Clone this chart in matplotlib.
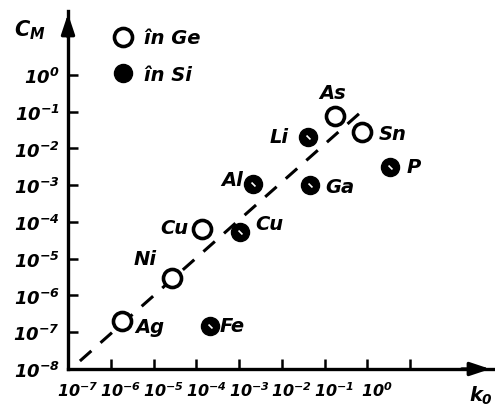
import matplotlib
matplotlib.use("Agg")
import matplotlib.pyplot as plt
from matplotlib.lines import Line2D
from matplotlib.transforms import ScaledTranslation

plt.rcParams['font.family'] = ['DejaVu Sans']
plt.rcParams['mathtext.fontset'] = 'custom'
plt.rcParams['mathtext.rm'] = 'DejaVu Sans:italic:bold'
plt.rcParams['mathtext.it'] = 'DejaVu Sans:italic:bold'

# impurities in Ge (open circles)
ge_names = ['Ag', 'Ni', 'Cu', 'As', 'Sn']
ge_k0 = [1.8e-6, 2.7e-5, 1.35e-4, 0.18, 0.76]
ge_cm = [2.0e-7, 3.0e-6, 6.5e-5, 0.076, 0.028]

# impurities in Si (filled circles)
si_names = ['Fe', 'Cu', 'Al', 'Ga', 'Li', 'P']
si_k0 = [2.1e-4, 1.05e-3, 2.1e-3, 0.046, 0.041, 3.4]
si_cm = [1.5e-7, 5.4e-5, 1.07e-3, 1.02e-3, 0.02, 3.2e-3]

# label offsets (points) relative to each marker
ge_off = [(10, -4, 'left'), (-11, 14, 'right'), (-10, 1, 'right'), (-2, 17, 'center'), (12, -1, 'left')]
si_off = [(7, 0, 'left'), (11, 6, 'left'), (-7, 3, 'right'), (11, -1, 'left'), (-14, 1, 'right'), (12, 0, 'left')]

# dashed trend line
trend_k0 = [1.9e-7, 0.9]
trend_cm = [1.65e-8, 0.125]

x_ticks = [10.0 ** p for p in range(-7, 2)]
x_labels = [r'$10^{%d}$' % p for p in range(-7, 1)] + ['']
y_ticks = [10.0 ** p for p in range(-8, 1)]
y_labels = [r'$10^{%d}$' % p for p in range(-8, 1)]

fig = plt.figure(figsize=(4.95, 4.10), dpi=100)
ax = fig.add_axes([68 / 495, 40 / 410, 425 / 495, 358 / 410])
ax.set_xscale('log')
ax.set_yscale('log')
ax.set_xlim(1e-7, 10 ** 2.94)
ax.set_ylim(1e-8, 10 ** 1.74)

ax.plot(trend_k0, trend_cm, color='k', lw=2.2, ls=(0, (5, 4)), zorder=1)

ax.plot(ge_k0, ge_cm, 'o', ms=13, mfc='white', mec='k', mew=2.6, ls='none', zorder=3)
ax.plot(si_k0, si_cm, 'o', ms=13, mfc='k', mec='k', ls='none', zorder=3)
ax.plot(si_k0, si_cm, marker=(2, 0, 45), ms=4, mec='white', mew=1.2, ls='none', zorder=4)

for names, xs, ys, offs in [(ge_names, ge_k0, ge_cm, ge_off), (si_names, si_k0, si_cm, si_off)]:
    for n, x, y, (dx, dy, ha) in zip(names, xs, ys, offs):
        ax.annotate(n, (x, y), xytext=(dx, dy), textcoords='offset points',
                    ha=ha, va='center', fontsize=14, style='italic', weight='bold')

for s in ['top', 'right']:
    ax.spines[s].set_visible(False)
for s in ['left', 'bottom']:
    ax.spines[s].set_linewidth(2.4)

ax.set_xticks(x_ticks)
ax.set_xticklabels(x_labels, fontsize=11.5)
ax.set_yticks(y_ticks)
ax.set_yticklabels(y_labels, fontsize=13)
ax.minorticks_off()
ax.tick_params(direction='in', length=7, width=1.8, pad=6)
ax.tick_params(axis='x', pad=8)
for lab in ax.get_xticklabels():
    lab.set_transform(lab.get_transform() + ScaledTranslation(0.1, 0, fig.dpi_scale_trans))

# axis arrows
ax.annotate('', xy=(0, 1), xytext=(0, 0.92), xycoords='axes fraction',
            arrowprops=dict(arrowstyle='-|>,head_length=1.2,head_width=0.4', color='k', lw=2.4))
ax.annotate('', xy=(1, 0), xytext=(0.92, 0), xycoords='axes fraction',
            arrowprops=dict(arrowstyle='-|>,head_length=1.2,head_width=0.4', color='k', lw=2.4))

fig.text(14 / 495, 1 - 30 / 410, r'$C_{\mathrm{M}}$', fontsize=15, va='center')
fig.text(469 / 495, 1 - 396 / 410, r'$k_0$', fontsize=14, va='center')

handles = [Line2D([], [], marker='o', ms=13, mfc='white', mec='k', mew=2.6, ls='none'),
           Line2D([], [], marker='o', ms=13, mfc='k', mec='k', ls='none')]
ax.legend(handles, ['în Ge', 'în Si'], loc='upper left', bbox_to_anchor=(0.06, 1.0),
          frameon=False, prop=dict(size=14, style='italic', weight='bold'),
          labelspacing=0.9, handletextpad=0.5, handlelength=1.2)

fig.savefig('out.png', dpi=100)
